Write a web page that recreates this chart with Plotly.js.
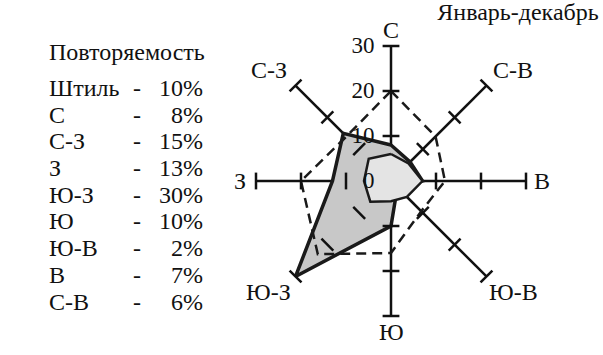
<!DOCTYPE html>
<html>
<head>
<meta charset="utf-8">
<script src="https://cdn.plot.ly/plotly-3.0.1.min.js"></script>
<style>html,body{margin:0;padding:0;background:#fff;font-family:'Liberation Serif',serif}
#chart text{font-family:'Liberation Serif',serif !important}</style>
</head>
<body>
<div id="chart" style="width:603px;height:355px"></div>
<script>
// Directions of the wind rose (clockwise from north)
var directions = ['С', 'С-В', 'В', 'Ю-В', 'Ю', 'Ю-З', 'З', 'С-З'];
// Repeatability, % (filled polygon)
var repeatability = [8, 6, 7, 2, 10, 30, 13, 15];
// Dashed polygon
var dashedSeries = [20, 14, 12, 9.5, 16, 23, 20, 14];
// Inner thin polygon
var innerSeries = [6, 5.5, 7, 5, 4.5, 6.5, 6, 7];
// Calm, %
var calm = 10;
// Table order
var tableNames = ['С', 'С-З', 'З', 'Ю-З', 'Ю', 'Ю-В', 'В', 'С-В'];
// Radial ticks
var radialTicks = [0, 10, 20, 30];
var spokeTicks = [10, 20, 30];

function closed(a) { return a.concat([a[0]]); }

var FONT = 'Liberation Serif';
var W = 603, H = 355;
var CX = 391, CY = 181, RAD = 135;

function draw() {
  var traces = [];
  traces.push({
    type: 'scatterpolar', r: closed(repeatability), theta: closed(directions),
    mode: 'lines', fill: 'toself', fillcolor: '#c8c8c8',
    line: {color: '#1a1a1a', width: 3.5}, hoverinfo: 'skip', showlegend: false
  });
  traces.push({
    type: 'scatterpolar', r: closed(innerSeries), theta: closed(directions),
    mode: 'lines', fill: 'toself', fillcolor: '#e4e4e4',
    line: {color: '#1a1a1a', width: 2.5}, hoverinfo: 'skip', showlegend: false
  });
  traces.push({
    type: 'scatterpolar', r: closed(dashedSeries), theta: closed(directions),
    mode: 'lines', line: {color: '#1a1a1a', width: 2.5, dash: '10px,6px'},
    hoverinfo: 'skip', showlegend: false
  });
  // tick marks on each spoke
  var tr = [], tt = [], ta = [];
  directions.forEach(function (d, i) {
    spokeTicks.forEach(function (v) { tr.push(v); tt.push(d); ta.push(i * 45); });
  });
  traces.push({
    type: 'scatterpolar', r: tr, theta: tt, mode: 'markers',
    marker: {symbol: 'line-ew', size: 12, angle: ta, color: '#111', line: {color: '#111', width: 2.5}},
    hoverinfo: 'skip', showlegend: false
  });

  var ann = [];
  ann.push({text: 'Повторяемость', x: 47, y: 52, xanchor: 'left', size: 24});
  var rowY0 = 88, rowStep = 26.7;
  var names = ['Штиль'].concat(tableNames);
  var vals = [calm].concat(tableNames.map(function (n) { return repeatability[directions.indexOf(n)]; }));
  names.forEach(function (n, i) {
    var y = rowY0 + i * rowStep;
    ann.push({text: n, x: 47, y: y, xanchor: 'left', size: 24});
    ann.push({text: '-', x: 137, y: y, xanchor: 'center', size: 24});
    ann.push({text: vals[i] + '%', x: 205, y: y, xanchor: 'right', size: 24});
  });
  // direction labels just beyond the end of each spoke
  directions.forEach(function (d, i) {
    var a = i * 45 * Math.PI / 180;
    var rx = (i % 2 === 0) ? RAD + 16 : RAD + 38;
    var ry = (i % 2 === 0) ? RAD + 16 : RAD + 22;
    ann.push({text: d, x: CX + rx * Math.sin(a), y: CY - ry * Math.cos(a), xanchor: 'center', size: 24});
  });
  var annotations = ann.map(function (a) {
    return {
      text: a.text, xref: 'paper', yref: 'paper', x: a.x / W, y: 1 - a.y / H,
      xanchor: a.xanchor, yanchor: 'middle', showarrow: false,
      font: {family: FONT, size: a.size, color: '#111'}
    };
  });

  var layout = {
    width: W, height: H,
    margin: {l: 0, r: 0, t: 0, b: 0},
    paper_bgcolor: '#fff',
    font: {family: FONT, size: 23, color: '#111'},
    title: {text: 'Январь-декабрь', x: 518 / W, xanchor: 'center', xref: 'paper',
            y: 1 - 12 / H, yanchor: 'middle', yref: 'paper',
            font: {family: FONT, size: 24, color: '#111'}},
    showlegend: false,
    polar: {
      domain: {x: [(CX - RAD) / W, (CX + RAD) / W], y: [1 - (CY + RAD) / H, 1 - (CY - RAD) / H]},
      bgcolor: '#fff',
      angularaxis: {
        type: 'category', categoryarray: directions, direction: 'clockwise', rotation: 90,
        showgrid: true, gridcolor: '#111', gridwidth: 2.5, showline: false,
        ticks: '', showticklabels: false,
        layer: 'above traces'
      },
      radialaxis: {
        range: [0, 30], tickvals: radialTicks, showgrid: false, showline: false,
        ticks: 'outside', ticklen: 8, tickcolor: 'rgba(0,0,0,0)',
        angle: 90, side: 'counterclockwise', tickangle: 90,
        layer: 'above traces',
        tickfont: {family: FONT, size: 23, color: '#111'}
      }
    },
    annotations: annotations
  };

  Plotly.newPlot('chart', traces, layout, {displayModeBar: false, staticPlot: true});
}

if (document.fonts && document.fonts.load) {
  document.fonts.load('24px "Liberation Serif"', 'ПовтоЯнварь0123').then(draw, draw);
} else {
  draw();
}
</script>
</body>
</html>
